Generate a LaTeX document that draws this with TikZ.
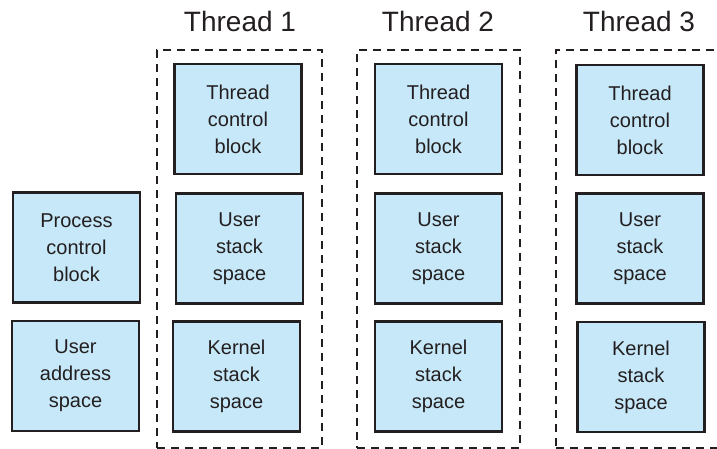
\documentclass[tikz,border=0pt]{standalone}
\usepackage{fontspec}
\setmainfont{Liberation Sans}
\definecolor{boxfill}{HTML}{C6E8F8}
\definecolor{ink}{HTML}{231F20}
\begin{document}
\begin{tikzpicture}[x=1pt,y=-1pt,
  blk/.style={draw=ink,line width=2.6pt,fill=boxfill,minimum width=127pt,minimum height=110pt,
    inner sep=0pt,align=center,text=ink,font=\fontsize{20}{27}\selectfont},
  grp/.style={draw=ink,line width=2.6pt,dash pattern=on 8pt off 6pt,inner sep=0pt},
  ttl/.style={text=ink,font=\fontsize{28}{32}\selectfont,inner sep=0pt}]
\useasboundingbox (0,0) rectangle (717,448);
\clip (0,0) rectangle (717,448);
% dashed thread groups
\node[grp,minimum width=165pt,minimum height=398pt] (g1) at (239.5,249) {};
\node[grp,minimum width=163pt,minimum height=398pt] (g2) at (438.5,249) {};
\node[grp,minimum width=174pt,minimum height=398pt] (g3) at (643,249) {};
% titles
\node[ttl] (t1) at (240,21) {Thread 1};
\node[ttl] (t2) at (438,21) {Thread 2};
\node[ttl] (t3) at (639,21) {Thread 3};
% process boxes
\node[blk] (pcb) at (76.5,247.5) {Process\\control\\block};
\node[blk] (uas) at (75.5,376) {User\\address\\space};
% thread 1
\node[blk] (tcb1) at (238,119) {Thread\\control\\block};
\node[blk] (us1) at (239.5,248.5) {User\\stack\\space};
\node[blk] (ks1) at (236.5,376.5) {Kernel\\stack\\space};
% thread 2
\node[blk] (tcb2) at (438.5,119) {Thread\\control\\block};
\node[blk] (us2) at (438.5,248.5) {User\\stack\\space};
\node[blk] (ks2) at (438.5,376.5) {Kernel\\stack\\space};
% thread 3
\node[blk] (tcb3) at (640,120) {Thread\\control\\block};
\node[blk] (us3) at (640,248.5) {User\\stack\\space};
\node[blk] (ks3) at (641,377) {Kernel\\stack\\space};
\end{tikzpicture}
\end{document}
